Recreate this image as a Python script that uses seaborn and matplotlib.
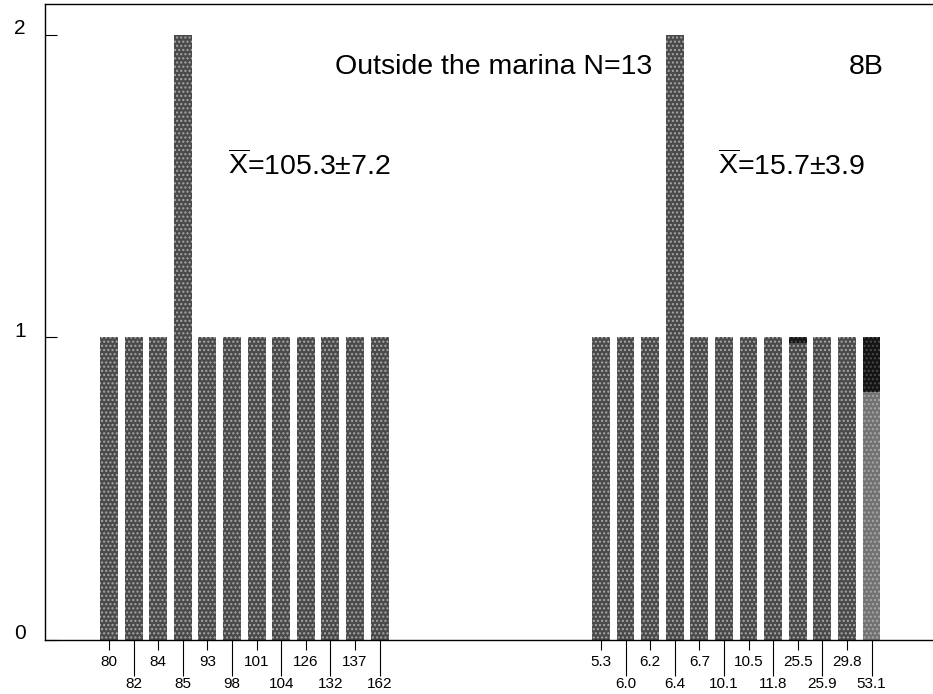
import numpy as np
import pandas as pd
import matplotlib
matplotlib.use('Agg')
import matplotlib.pyplot as plt
import matplotlib.transforms as mtransforms
import seaborn as sns

# Longitud total (mm) de los peces fuera de la marina, N=13
length_labels = ['80', '82', '84', '85', '93', '98', '101', '104', '126', '132', '137', '162']
length_counts = [1, 1, 1, 2, 1, 1, 1, 1, 1, 1, 1, 1]

# Peso (g) de los mismos peces
weight_labels = ['5.3', '6.0', '6.2', '6.4', '6.7', '10.1', '10.5', '11.8', '25.5', '25.9', '29.8', '53.1']
weight_counts = [1, 1, 1, 2, 1, 1, 1, 1, 1, 1, 1, 1]
weight_dark = [0, 0, 0, 0, 0, 0, 0, 0, 0.02, 0, 0, 0.18]   # parte oscura arriba de la barra

length_note = r'$\overline{\mathrm{X}}$=105.3±7.2'
weight_note = r'$\overline{\mathrm{X}}$=15.7±3.9'

# Posiciones: dos grupos separados por un hueco
pos = list(range(len(length_labels))) + list(range(20, 20 + len(weight_labels)))
totals = length_counts + weight_counts
dark = [0] * len(length_counts) + weight_dark
df = pd.DataFrame({
    'pos': pos,
    'total': totals,
    'light': np.array(totals) - np.array(dark),
})
labels = length_labels + weight_labels

sns.set_style('white')
plt.rcParams['font.family'] = ['Liberation Sans', 'DejaVu Sans']
plt.rcParams['mathtext.fontset'] = 'custom'
plt.rcParams['mathtext.rm'] = 'Liberation Sans'
plt.rcParams['hatch.linewidth'] = 1.0
plt.rcParams['text.color'] = 'black'
plt.rcParams['xtick.color'] = 'black'
plt.rcParams['ytick.color'] = 'black'

fig = plt.figure(figsize=(9.33, 6.94), dpi=100)
ax = fig.add_axes([45 / 933, 54 / 694, 1 - 45 / 933, 636 / 694])

# barra completa (oscura) y encima la parte clara
sns.barplot(data=df, x='pos', y='total', native_scale=True, width=0.73,
            color='#141414', saturation=1, errorbar=None, ax=ax,
            hatch='....', edgecolor='#4a4a4a', linewidth=0)
sns.barplot(data=df, x='pos', y='light', native_scale=True, width=0.73,
            color='#4a4a4a', saturation=1, errorbar=None, ax=ax,
            hatch='....', edgecolor='#a8a8a8', linewidth=0)
ax.patches[-1].set_facecolor('#727272')

ax.set_xlim(-2.6, 33.5)
ax.set_ylim(0, 2.102)
ax.set_xlabel('')
ax.set_ylabel('')

# etiquetas en dos filas alternadas
ax.set_xticks(pos[0::2], labels[0::2])
ax.set_xticks(pos[1::2], labels[1::2], minor=True)
ax.tick_params(axis='x', which='major', length=7, width=0.8, pad=4,
               labelsize=11, color='black', labelcolor='black', bottom=True)
ax.tick_params(axis='x', which='minor', length=26, width=0.8, pad=1,
               labelsize=11, color='black', labelcolor='black', bottom=True)

ax.set_yticks([0, 1, 2], ['0', '1', '2'])
ax.tick_params(axis='y', direction='in', length=8.6, width=0.8, pad=14,
               labelsize=15, color='black', labelcolor='black', left=True)
shift = mtransforms.ScaledTranslation(0, 6 / 72, fig.dpi_scale_trans)
for lab in ax.get_yticklabels():
    lab.set_transform(lab.get_transform() + shift)

for side in ['left', 'bottom', 'top']:
    ax.spines[side].set_color('black')
    ax.spines[side].set_linewidth(1.0)
ax.spines['right'].set_visible(False)

ax.text(15.65, 1.871, 'Outside the marina N=13', ha='center', va='baseline', fontsize=20.5)
ax.text(30.77, 1.871, '8B', ha='center', va='baseline', fontsize=20.5)
ax.text(4.84, 1.536, length_note, ha='left', va='baseline', fontsize=20.5)
ax.text(24.76, 1.536, weight_note, ha='left', va='baseline', fontsize=20.5)

fig.savefig('out.png', dpi=100)
plt.close(fig)
